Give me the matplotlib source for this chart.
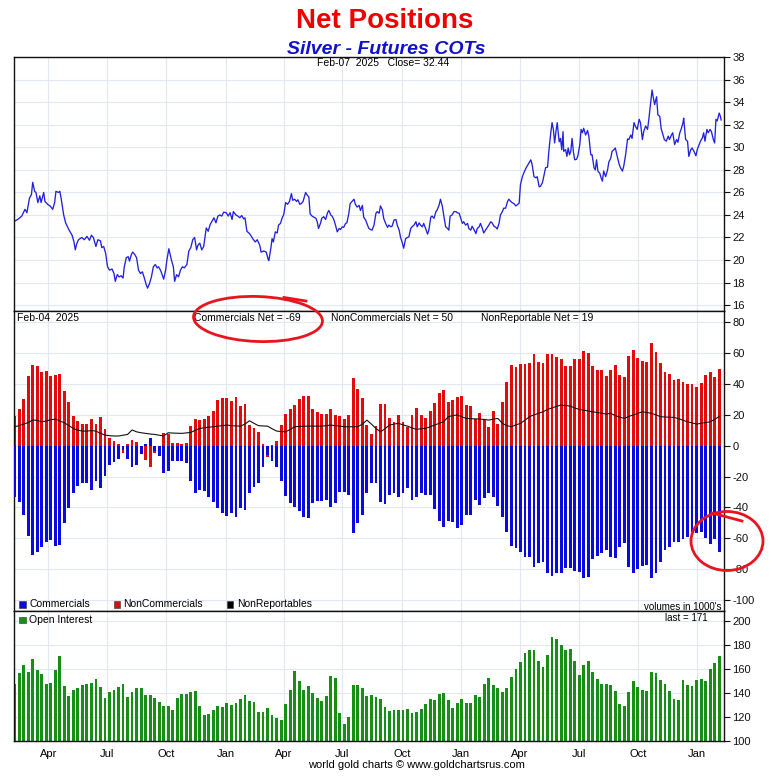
import matplotlib
matplotlib.use('Agg')
import matplotlib.pyplot as plt
import matplotlib.dates as mdates
import numpy as np
import pandas as pd
from matplotlib.patches import Ellipse, Rectangle
from matplotlib.lines import Line2D

plt.rcParams['font.family'] = ['Liberation Sans', 'DejaVu Sans']
plt.rcParams['axes.unicode_minus'] = False

# ---------------- data ----------------
price_start = '2022-02-07'
price_day = [1,7,12,17,20,24,27,29,32,34,37,40,42,46,48,53,56,60,63,65,69,71,73,77,80,85,90,93,95,97,
             100,105,109,113,117,120,123,127,130,134,136,139,142,145,148,152,155,157,160,163,166,169,171,174,177,179,182,184,187,190,
             193,196,199,202,205,207,210,213,216,219,222,224,227,229,232,235,237,240,242,244,247,249,252,255,258,261,264,268,271,274,
             277,280,283,285,288,291,294,298,301,304,307,310,313,316,319,322,325,329,332,335,338,340,344,347,350,353,356,358,361,365,368,
             370,374,377,381,383,387,391,394,395,398,400,402,405,408,410,413,416,418,421,424,427,430,432,435,438,440,443,445,448,452,
             454,457,459,462,465,468,470,472,475,477,480,483,486,488,491,493,496,499,501,504,506,509,511,514,516,519,521,524,527,529,
             532,535,537,540,542,545,548,550,553,555,558,561,563,566,568,571,573,576,579,581,584,586,589,592,594,597,599,602,604,607,
             610,612,615,617,620,623,625,628,630,633,635,638,641,643,646,648,651,654,656,659,661,664,666,669,672,674,676,679,682,685,
             687,690,692,695,697,700,703,705,708,710,713,716,718,721,723,726,728,
             732,736,739,741,744,747,749,752,754,757,759,762,765,767,770,772,775,778,780,783,785,788,790,793,796,798,801,803,806,809,
             811,814,816,819,821,824,827,829,832,834,836,838,840,842,845,847,849,851,852,855,857,859,861,863,865,867,869,872,874,877,
             879,881,883,886,889,891,894,896,899,901,903,905,908,910,912,914,917,920,922,925,927,930,932,935,938,940,943,945,948,951,
             953,956,958,961,963,966,969,971,974,976,979,982,984,987,989,991,993,996,998,1001,1003,1006,1008,1011,1014,1016,1019,1021,1024,1027,
             1029,1032,1034,1037,1038,1041,1044,1046,1049,1051,1054,1057,1059,1062,1064,1067,1069,1071,1074,1076,1079,1081,1084,1086,1088,1090,1093,1095,1096]
price_val = [23.45,23.65,23.9,24.5,24.2,25.5,25.8,26.9,26.1,26.0,25.1,25.7,25.1,26.0,25.2,24.9,24.8,24.5,25.1,26.1,
             26.0,26.1,25.5,24.0,23.3,22.7,22.2,21.6,20.9,21.4,21.8,22.0,21.8,22.1,21.75,22.2,22.0,21.2,21.8,21.7,
             21.1,21.2,20.6,19.4,19.1,19.2,18.8,18.1,18.7,18.5,18.6,18.4,19.4,20.2,20.3,19.9,20.5,20.7,20.5,20.2,
             19.1,18.8,18.95,18.4,17.8,17.5,17.9,18.5,19.4,19.6,19.3,19.4,19.1,18.8,18.3,19.1,20.0,21.0,20.5,20.0,
             19.4,18.1,18.7,18.5,19.1,19.4,19.3,19.6,20.8,21.1,21.8,22.0,20.9,21.3,21.5,20.9,21.2,22.85,22.55,23.15,
             23.45,23.75,23.3,23.9,24.0,23.9,24.25,24.2,23.9,24.2,23.6,24.3,24.0,23.9,23.75,23.95,23.65,23.75,22.55,22.35,22.1,
             21.9,21.6,21.8,21.3,20.7,20.8,20.7,20.05,19.95,21.0,21.9,21.6,22.5,22.4,23.1,23.25,23.8,24.0,25.1,24.95,
             25.2,25.9,25.3,25.4,25.2,25.35,24.95,25.0,25.2,26.0,25.8,25.6,24.1,23.9,23.8,23.7,23.4,22.8,23.25,23.7,
             23.85,23.6,24.2,24.4,24.0,23.9,23.55,22.95,22.5,22.8,22.7,22.95,22.9,23.25,23.3,24.15,25.0,25.2,25.4,24.95,
             24.7,24.85,24.4,24.85,23.8,23.55,23.1,22.8,22.7,22.65,23.1,24.15,24.3,24.15,24.8,24.45,23.7,23.25,22.9,23.1,
             22.95,23.0,23.55,23.6,23.1,22.65,22.05,21.5,21.05,21.9,22.0,22.05,22.8,22.95,23.1,23.4,22.95,23.3,23.1,22.95,
             23.25,22.8,22.3,22.65,23.8,23.9,23.7,24.3,24.45,24.9,25.4,24.75,24.0,22.95,22.8,22.65,23.9,24.0,24.3,24.3,
             24.2,24.15,23.8,23.25,23.4,23.1,23.25,22.8,22.65,23.0,22.7,22.35,22.8,22.95,23.25,22.8,22.4,
             22.75,23.1,23.4,23.3,23.0,22.9,22.75,23.3,24.0,24.3,24.6,24.6,25.2,25.4,25.2,25.1,25.0,24.8,24.9,25.05,
             26.7,27.4,27.7,28.1,28.4,28.6,28.9,28.5,27.4,27.3,27.4,26.5,26.55,26.85,27.4,28.2,28.25,29.65,31.3,32.2,
             31.6,30.4,31.4,32.2,30.5,30.8,29.8,31.4,29.65,29.8,29.2,29.95,29.35,29.65,30.8,29.65,28.9,28.95,29.25,30.25,
             31.6,31.3,31.7,31.1,31.5,31.0,29.35,29.35,28.2,28.0,28.9,27.9,27.7,27.3,27.0,27.9,27.4,28.0,28.7,29.05,
             29.65,29.8,29.95,29.2,28.5,28.2,27.9,28.3,29.35,30.75,30.7,31.1,30.8,32.2,31.9,31.6,32.5,32.2,30.7,31.4,
             31.9,31.6,32.5,34.1,35.1,34.4,33.8,34.5,32.9,32.75,31.7,31.1,30.7,30.55,31.0,30.7,31.1,31.3,30.25,30.7,
             30.45,31.3,31.6,32.2,32.6,30.7,30.55,29.2,29.8,29.95,29.65,29.25,29.8,30.25,30.55,30.85,31.3,30.55,31.6,31.3,
             31.6,31.4,30.7,30.4,32.5,32.35,33.05,32.75,32.44]

report_start = '2022-02-08'   # weekly COT report dates (Tuesdays)
commercials = [-33.0,-36.7,-44.9,-58.3,-70.6,-68.7,-65.4,-62.2,-61.1,-65.0,
               -64.4,-49.9,-40.2,-30.9,-25.9,-24.4,-24.4,-28.7,-22.7,-27.6,
               -19.4,-12.5,-10.4,-8.9,-2.8,-8.9,-14.0,-12.5,-5.4,1.0,
               5.2,-3.5,-6.5,-17.9,-16.2,-9.7,-9.7,-9.7,-11.0,-22.7,
               -30.5,-28.7,-29.2,-33.0,-36.3,-40.6,-43.8,-45.6,-43.8,-46.0,
               -40.2,-41.7,-30.5,-26.6,-24.0,-13.6,-6.0,-9.7,-13.6,-22.7,
               -32.4,-36.9,-39.5,-42.1,-46.0,-47.1,-37.4,-35.6,-35.6,-35.2,
               -39.5,-36.9,-29.8,-30.2,-32.0,-56.8,-50.3,-44.9,-30.9,-24.0,
               -24.4,-36.3,-38.0,-32.0,-30.5,-33.5,-30.9,-27.6,-35.2,-33.0,
               -30.9,-32.0,-32.0,-41.3,-48.8,-52.9,-48.8,-49.2,-53.6,-51.4,
               -44.9,-44.9,-35.2,-38.4,-34.1,-30.9,-33.5,-39.1,-46.0,-55.7,
               -65.0,-66.5,-68.7,-71.9,-71.9,-78.4,-76.2,-75.2,-82.3,-84.4,
               -82.3,-82.3,-79.0,-79.5,-81.0,-81.6,-85.5,-84.9,-73.7,-71.5,
               -69.8,-67.6,-71.9,-73.0,-65.4,-63.3,-78.4,-82.7,-80.1,-78.0,
               -77.3,-86.0,-82.7,-75.2,-67.6,-65.9,-62.2,-62.2,-60.7,-59.0,
               -55.7,-56.8,-55.7,-60.0,-63.7,-60.7,-69.0]
noncommercials = [19.2,23.8,30.2,45.1,52.3,51.6,47.9,48.4,45.1,45.8,
                  46.4,35.6,28.3,19.2,16.0,14.0,14.0,17.5,14.0,18.6,
                  10.8,5.2,3.0,1.1,-5.0,1.1,3.5,2.6,-2.0,-9.3,
                  -13.6,-5.0,-1.5,8.4,7.3,1.5,1.5,1.0,2.0,12.7,
                  17.3,16.6,17.1,19.2,22.5,29.6,30.9,30.9,29.2,31.3,
                  25.7,27.0,13.4,11.4,8.6,1.0,-7.5,0.5,3.0,13.4,
                  20.7,23.5,26.1,30.0,32.0,32.0,23.5,21.6,20.7,20.7,
                  23.5,19.7,19.0,17.5,19.7,43.6,36.5,30.7,13.4,7.6,
                  12.7,27.0,27.0,18.1,15.1,19.9,15.1,12.3,19.9,24.6,
                  19.9,18.1,22.5,27.9,33.9,36.1,28.3,29.6,31.3,32.2,
                  26.3,25.7,17.3,21.0,16.6,12.3,22.5,14.0,28.3,41.5,
                  52.3,51.2,52.9,52.9,53.3,59.4,54.2,53.8,59.4,59.4,
                  57.2,55.9,51.6,51.6,56.2,56.2,61.3,60.3,51.6,49.0,
                  49.0,45.1,49.0,52.3,45.8,44.3,58.1,62.0,56.6,54.9,
                  54.4,66.7,60.5,53.8,47.9,46.4,42.5,43.2,41.5,40.0,
                  40.0,38.2,40.8,45.8,47.9,44.7,50.0]
nonreportables = [12.3,13,14,15,16.6,16.5,15.5,16,16.8,17.3,
                  16,14.9,13,11.2,10,9.5,9.5,9.8,9.5,8,
                  6.9,6.5,6.3,6.3,6.8,7.3,10.2,9,8.4,8,
                  7.6,7.3,6.8,6.3,8.4,8.2,8.1,8,8.3,8.6,
                  10,11.2,11.6,12,12.3,12.7,13,13.4,13,12.8,
                  12.7,14,16.2,14.5,13,12.8,12.7,11,9.5,9.2,
                  9,10.5,12.3,12.5,12.6,12.7,12.7,12.7,12.7,13,
                  13.4,13,12.7,12.3,12.3,12.3,12.3,14,16.6,14,
                  11.2,9,11,13.4,14,14.5,13.5,12.7,11.5,10.6,
                  11,11.2,12.3,13.4,14.5,15.5,18.8,19.5,19.9,18.8,
                  17.7,17.5,17.4,17.3,17,16.6,17.2,17.7,14.5,13,
                  12.3,13.5,14.5,16.5,18.8,20,21,22,23.5,24.5,
                  25.5,26.3,26,25.7,24.5,23.5,23,22.5,22,21.5,
                  21,20.5,21,19.5,18.5,17.7,19,19.9,21,22,
                  21.5,21,20,18.8,18.6,18.5,18.4,17.5,16.5,15.5,
                  14.8,14,14.5,15,15.5,17,19]
open_interest = [147.4,156.8,163.2,157.6,168.1,159.0,155.7,147.4,148.5,159.0,
                 170.6,145.7,137.4,142.4,143.8,146.5,147.4,147.9,151.5,144.6,
                 135.5,140.4,142.4,144.6,147.4,136.3,140.4,143.8,143.8,138.2,
                 138.2,135.5,132.1,129.1,129.1,125.8,135.5,139.1,139.1,140.4,
                 141.6,129.1,121.6,122.4,125.8,129.1,128.5,131.3,129.9,131.3,
                 134.6,138.2,133.5,132.1,124.1,124.1,127.1,121.6,119.4,117.5,
                 130.7,142.4,158.2,150.1,142.4,145.7,139.6,135.5,133.2,137.4,
                 154.0,152.1,123.0,114.1,119.7,146.5,146.5,143.8,137.4,138.2,
                 136.3,134.6,128.0,125.2,125.8,125.8,125.8,126.6,123.0,124.1,
                 126.6,130.5,134.6,134.1,138.8,139.6,134.1,127.7,131.3,134.6,
                 131.3,131.9,137.9,136.3,147.4,152.1,146.3,143.8,140.4,143.8,
                 152.9,159.6,165.9,173.4,175.6,175.6,166.5,161.2,171.2,186.1,
                 184.5,179.8,175.6,176.2,166.5,154.8,163.2,166.5,157.6,151.5,
                 147.4,147.4,146.5,141.6,130.7,129.1,141.0,149.9,144.6,142.4,
                 141.8,157.6,156.2,150.7,147.4,141.8,134.9,134.1,150.7,146.5,
                 145.7,150.7,151.5,149.9,159.8,165.1,171.0]

title = 'Net Positions'
subtitle = 'Silver - Futures COTs'
price_label = 'Feb-07  2025   Close= 32.44'
cot_label = 'Feb-04  2025'
net_labels = ['Commercials Net = -69', 'NonCommercials Net = 50', 'NonReportable Net = 19']
legend_names = ['Commercials', 'NonCommercials', 'NonReportables']
oi_name = 'Open Interest'

# ---------------- styles ----------------
C_BLUE = '#0a0ade'
C_RED = '#e20a0a'
C_GREEN = '#178f17'
C_LINE = '#2222dd'
GRID = '#e2e8ef'
FS = 7.5

price_dates = pd.Timestamp(price_start) + pd.to_timedelta(price_day, unit='D')
report_dates = pd.date_range(report_start, periods=len(commercials), freq='7D')

W_PX, H_PX = 772, 778
fig = plt.figure(figsize=(W_PX / 100, H_PX / 100), dpi=100)
fig.patch.set_facecolor('white')

def fx(x):
    return x / W_PX

def fy(y):
    return 1 - y / H_PX

L, W = fx(14), (724 - 14) / W_PX
ax1 = fig.add_axes([L, fy(311), W, (311 - 57) / H_PX])
ax2 = fig.add_axes([L, fy(611), W, (611 - 311) / H_PX], sharex=ax1)
ax3 = fig.add_axes([L, fy(741), W, (741 - 611) / H_PX], sharex=ax1)

ax1.plot(price_dates, price_val, color=C_LINE, lw=0.95)

bw = 4.4
ax2.bar(report_dates, noncommercials, width=bw, color=C_RED, zorder=2)
ax2.bar(report_dates, commercials, width=bw, color=C_BLUE, zorder=3)
ax2.plot(report_dates, nonreportables, color='#111111', lw=0.8, zorder=4)

ax3.bar(report_dates, open_interest, width=bw, color=C_GREEN, zorder=2)

ax1.set_ylim(15.47, 38.03)
ax1.set_yticks(np.arange(16, 39, 2))
ax2.set_ylim(-107.1, 87.3)
ax2.set_yticks(np.arange(-100, 81, 20))
ax3.set_ylim(100, 208.1)
ax3.set_yticks(np.arange(100, 201, 20))

ax1.set_xlim(pd.Timestamp('2022-02-07'), pd.Timestamp('2025-02-11 12:00'))
for ax in (ax1, ax2, ax3):
    ax.yaxis.tick_right()
    ax.tick_params(axis='y', direction='out', length=4, width=0.8, labelsize=8, pad=2, colors='#111111')
    ax.tick_params(axis='x', length=0, labelsize=8, pad=6)
    ax.grid(True, color=GRID, lw=0.8)
    ax.set_axisbelow(True)
    for s in ax.spines.values():
        s.set_linewidth(1.0)
        s.set_color('#111111')
    ax.xaxis.set_major_locator(mdates.MonthLocator(bymonth=[1, 4, 7, 10]))
    ax.xaxis.set_major_formatter(mdates.DateFormatter('%b'))
ax1.tick_params(axis='x', labelbottom=False)
ax2.tick_params(axis='x', labelbottom=False)

# titles
fig.text(fx(385), fy(21), title, color='#ee0000', fontsize=20, fontweight='bold',
         family=['Liberation Sans Narrow', 'Liberation Sans'], ha='center', va='center')
fig.text(fx(386), fy(49), subtitle, color='#1111cc', fontsize=14, fontweight='bold', style='italic',
         family=['Liberation Sans Narrow', 'Liberation Sans'], ha='center', va='center')

fig.text(fx(317), fy(63.5), price_label, fontsize=FS, ha='left', va='center')
fig.text(fx(17), fy(318), cot_label, fontsize=FS, ha='left', va='center')
for xp, lab in zip([194, 331, 481], net_labels):
    fig.text(fx(xp), fy(318), lab, fontsize=FS, ha='left', va='center')

# legends
for xp, col, lab in zip([19, 113.5, 227], [C_BLUE, C_RED, '#000000'], legend_names):
    fig.add_artist(Rectangle((fx(xp), fy(607.5)), 6.5 / W_PX, 6.5 / H_PX, transform=fig.transFigure,
                             facecolor=col, edgecolor='#333333', lw=0.4))
    fig.text(fx(xp + 10), fy(604.3), lab, fontsize=FS, ha='left', va='center')
fig.add_artist(Rectangle((fx(19), fy(623)), 6.5 / W_PX, 6.5 / H_PX, transform=fig.transFigure,
                         facecolor=C_GREEN, edgecolor='#333333', lw=0.4))
fig.text(fx(29), fy(619.7), oi_name, fontsize=FS, ha='left', va='center')
fig.text(fx(722), fy(606.7), "volumes in 1000's", fontsize=7, ha='right', va='center')
fig.text(fx(708), fy(617.7), 'last = %d' % round(open_interest[-1]), fontsize=7, ha='right', va='center')
fig.text(fx(416), fy(765.5), 'world gold charts \u00a9 www.goldchartsrus.com', fontsize=8, ha='center', va='center')

# hand-drawn red annotations
fig.add_artist(Ellipse((fx(258), fy(319)), 129 / W_PX, 45 / H_PX, angle=-2, transform=fig.transFigure,
                       fill=False, edgecolor='#e8141e', lw=2.0, zorder=20))
fig.add_artist(Line2D([fx(284), fx(306)], [fy(297.5), fy(301)], transform=fig.transFigure,
                      color='#e8141e', lw=2.0, zorder=20))
fig.add_artist(Ellipse((fx(727), fy(541)), 72 / W_PX, 59 / H_PX, angle=0, transform=fig.transFigure,
                       fill=False, edgecolor='#e8141e', lw=2.0, zorder=20))
fig.add_artist(Line2D([fx(712), fx(742)], [fy(513), fy(521)], transform=fig.transFigure,
                      color='#e8141e', lw=2.0, zorder=20))

fig.savefig('out.png', dpi=100)
